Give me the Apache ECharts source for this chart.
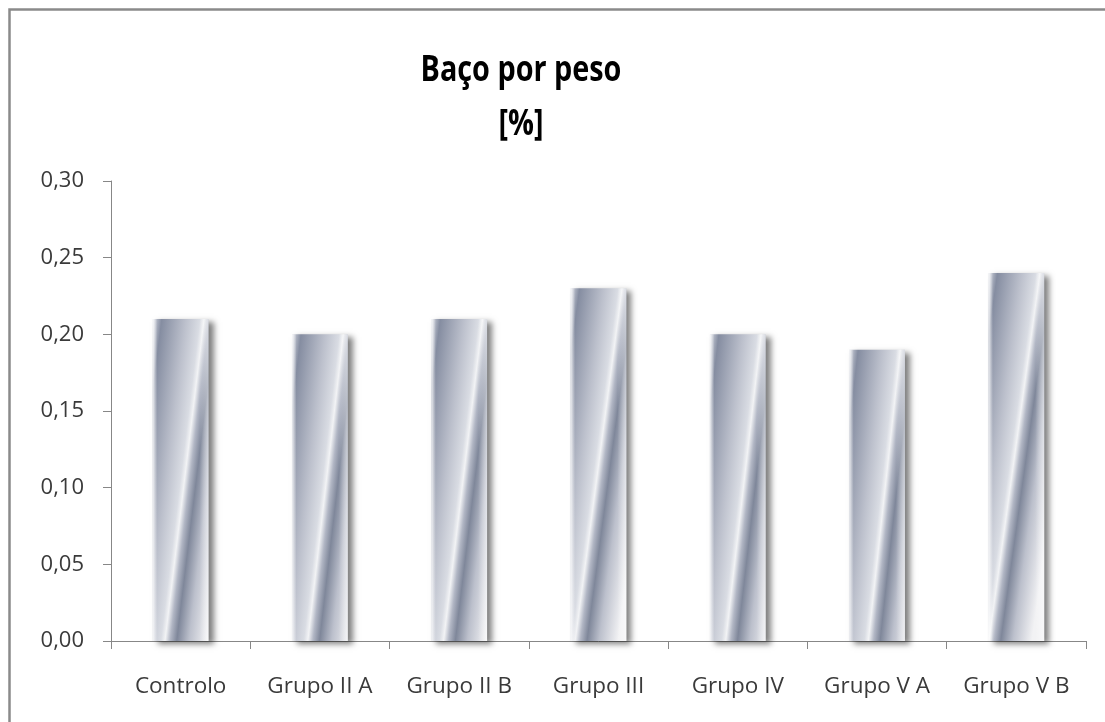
<!DOCTYPE html>
<html>
<head>
<meta charset="utf-8">
<script src="https://cdn.jsdelivr.net/npm/echarts@6/dist/echarts.min.js"></script>
<style>
  html, body { margin: 0; padding: 0; background: #ffffff; }
  #chart { width: 1105px; height: 722px; }
</style>
</head>
<body>
<div id="chart"></div>
<script>
// Spleen-to-body-weight ratio per group
const categories = ['Controlo', 'Grupo II A', 'Grupo II B', 'Grupo III', 'Grupo IV', 'Grupo V A', 'Grupo V B'];
const values = [0.21, 0.20, 0.21, 0.23, 0.20, 0.19, 0.24];
const titleLines = ['Baço por peso', '[%]'];

const FONT = '"Open Sans", "Noto Sans", sans-serif';

// Metallic fill: slanted bands running from lower left to upper right
const metal = {
  type: 'linear', x: 0, y: 0, x2: 1.665, y2: 0.035,
  colorStops: [
    { offset: 0.00, color: '#d6d9e1' },
    { offset: 0.095, color: '#858da1' },
    { offset: 0.35, color: '#bcc0cc' },
    { offset: 0.50, color: '#d9dce3' },
    { offset: 0.545, color: '#f2f3f5' },
    { offset: 0.60, color: '#b1b6c4' },
    { offset: 0.67, color: '#7f879a' },
    { offset: 0.80, color: '#bcc0cc' },
    { offset: 1.00, color: '#f2f2f4' }
  ]
};

// Soft highlight along the vertical edges of each column
const edgeGlow = {
  type: 'linear', x: 0, y: 0, x2: 1, y2: 0,
  colorStops: [
    { offset: 0.00, color: 'rgba(255,255,255,0.85)' },
    { offset: 0.08, color: 'rgba(255,255,255,0)' },
    { offset: 0.84, color: 'rgba(255,255,255,0)' },
    { offset: 1.00, color: 'rgba(255,255,255,0.5)' }
  ]
};

const chart = echarts.init(document.getElementById('chart'), null, { renderer: 'canvas' });

chart.setOption({
  backgroundColor: '#ffffff',
  animation: false,
  graphic: [
    {
      type: 'rect', silent: true, z: -1,
      shape: { x: 9.5, y: 9.5, width: 1120, height: 740 },
      style: { fill: 'none', stroke: '#8a8a8a', lineWidth: 2.5 }
    },
    {
      type: 'text', x: 521, y: 44, scaleX: 0.8, originX: 0,
      style: {
        text: titleLines.join('\n'),
        fill: '#000000',
        font: 'bold 36px ' + FONT,
        textAlign: 'center',
        lineHeight: 54
      }
    }
  ],
  grid: { left: 111, right: 19, top: 181, bottom: 81, containLabel: false },
  xAxis: {
    type: 'category',
    data: categories,
    axisLine: { lineStyle: { color: '#878787', width: 1 } },
    axisTick: { show: true, length: 8, lineStyle: { color: '#878787' } },
    axisLabel: { margin: 34, color: '#3a3a3a', fontSize: 22.5, fontFamily: FONT }
  },
  yAxis: {
    type: 'value',
    min: 0, max: 0.30, interval: 0.05,
    axisLine: { show: true, lineStyle: { color: '#878787', width: 1 } },
    axisTick: { show: true, length: 8, lineStyle: { color: '#878787' } },
    splitLine: { show: false },
    axisLabel: {
      margin: 27, color: '#3a3a3a', fontSize: 22, fontFamily: FONT,
      formatter: v => v.toFixed(2).replace('.', ',')
    }
  },
  series: [
    {
      type: 'bar',
      data: values,
      barWidth: '40%',
      itemStyle: {
        color: metal,
        shadowColor: 'rgba(0,0,0,0.5)',
        shadowBlur: 6,
        shadowOffsetX: 5,
        shadowOffsetY: 3
      }
    },
    {
      type: 'bar',
      data: values,
      barWidth: '40%',
      barGap: '-100%',
      silent: true,
      itemStyle: { color: edgeGlow }
    }
  ]
});
</script>
</body>
</html>
